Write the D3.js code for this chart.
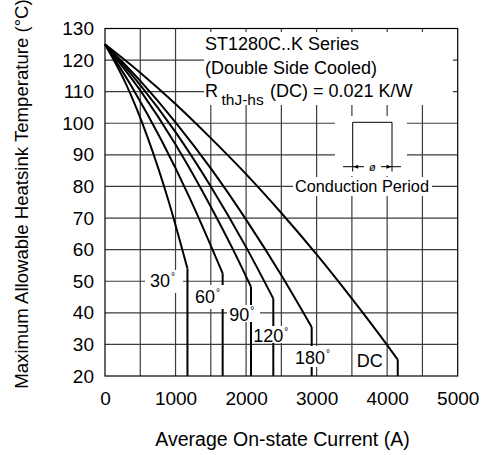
<!DOCTYPE html>
<html>
<head>
<meta charset="utf-8">
<script src="https://cdn.jsdelivr.net/npm/d3@7"></script>
<style>
  body { margin: 0; background: #fff; }
  svg { display: block; font-family: "Liberation Sans", Arial, sans-serif; }
</style>
</head>
<body>
<div class="chart"></div>
<script>
// values (current in A, heatsink temp in deg C)
const xTicks = [0, 1000, 2000, 3000, 4000, 5000];
const yTicks = [20, 30, 40, 50, 60, 70, 80, 90, 100, 110, 120, 130];

const labels = ['30', '60', '90', '120', '180', 'DC'];

const current30 = [0, 300, 600, 900, 1169];
const temp30 = [125, 112.3, 95.8, 75.5, 54];

const current60 = [0, 400, 800, 1200, 1668];
const temp60 = [125, 110.8, 94.6, 76.4, 52.5];

const current90 = [0, 500, 1000, 1500, 1800, 2070];
const temp90 = [125, 110.4, 93.3, 73.6, 60.7, 48.2];

const current120 = [0, 500, 1000, 1500, 2000, 2386];
const temp120 = [125, 112.1, 97.2, 80, 60.8, 44.5];

const current180 = [0, 500, 1000, 1500, 2000, 2500, 2930];
const temp180 = [125, 113.4, 100.3, 85.7, 69.5, 51.9, 35.5];

const currentDC = [0, 500, 1000, 1500, 2000, 2500, 3000, 3500, 4000, 4150];
const tempDC = [125, 116, 106.1, 95.3, 83.9, 71.6, 58.5, 44.5, 29.8, 25.2];

const allCurrents = [current30, current60, current90, current120, current180, currentDC];
const allTemps = [temp30, temp60, temp90, temp120, temp180, tempDC];

const width = 489, height = 455;
const x = d3.scaleLinear().domain([0, 5000]).range([105, 457.7]);
const y = d3.scaleLinear().domain([20, 130]).range([376, 28.5]);

const svg = d3.select('.chart').append('svg')
	.attr('width', width)
	.attr('height', height);

// grid
const grid = svg.append('g')
	.attr('stroke', '#3c3c3c')
	.attr('stroke-width', 1.2);
grid.selectAll('line.v')
	.data(d3.range(500, 5000, 500))
	.enter().append('line')
	.attr('x1', d => x(d)).attr('x2', d => x(d))
	.attr('y1', y(20)).attr('y2', y(130));
grid.selectAll('line.h')
	.data(yTicks.slice(1, -1))
	.enter().append('line')
	.attr('x1', x(0)).attr('x2', x(5000))
	.attr('y1', d => y(d)).attr('y2', d => y(d));

// curves
const line = d3.line()
	.x(d => x(d[0]))
	.y(d => y(d[1]))
	.curve(d3.curveMonotoneX);

const curves = svg.append('g')
	.attr('fill', 'none')
	.attr('stroke', '#000')
	.attr('stroke-width', 2);

labels.forEach((name, i) => {
	const pts = allCurrents[i].map((c, j) => [c, allTemps[i][j]]);
	const last = pts[pts.length - 1];
	curves.append('path').attr('d', line(pts));
	curves.append('line')
		.attr('x1', x(last[0])).attr('x2', x(last[0]))
		.attr('y1', y(last[1])).attr('y2', y(20));
});

// white boxes behind annotation text (they break the grid like in the original)
const boxes = [
	[145, 270, 38, 23],
	[193, 285, 33, 24],
	[227, 305, 33, 17],
	[253, 326, 43, 17],
	[293, 346, 41, 21],
	[354, 351, 31, 18],
	[204, 32, 249, 73],
	[335, 116, 72, 60],
	[293, 177, 139, 19]
];
svg.append('g').selectAll('rect')
	.data(boxes)
	.enter().append('rect')
	.attr('x', d => d[0]).attr('y', d => d[1])
	.attr('width', d => d[2]).attr('height', d => d[3])
	.attr('fill', '#fff');

// curve labels
const labelPos = [[150, 287], [195, 303], [229.3, 320.5], [253.3, 341.7], [295, 364], [356.7, 366.7]];
labels.forEach((name, i) => {
	const t = svg.append('text')
		.attr('x', labelPos[i][0]).attr('y', labelPos[i][1])
		.attr('font-size', 18)
		.text(name);
	if (name !== 'DC') {
		t.append('tspan')
			.attr('font-size', 10)
			.attr('dx', 1).attr('dy', -7)
			.text('°');
	}
});

// series title
const title = svg.append('g').attr('font-size', 18);
title.append('text').attr('x', 205).attr('y', 49.5).text('ST1280C..K Series');
title.append('text').attr('x', 205).attr('y', 73.5).text('(Double Side Cooled)');
title.append('text').attr('x', 205).attr('y', 97).text('R');
title.append('text').attr('x', 221.5).attr('y', 104.5).attr('font-size', 15.5).text('thJ-hs');
title.append('text').attr('x', 270).attr('y', 97).text('(DC) = 0.021 K/W');

// conduction period sketch
const sk = svg.append('g').attr('stroke', '#000').attr('stroke-width', 1).attr('fill', 'none');
sk.append('path').attr('d', 'M352.7,171.5V122.3H392V171.5');
sk.append('line').attr('x1', 343).attr('x2', 364).attr('y1', 166.7).attr('y2', 166.7);
sk.append('line').attr('x1', 381).attr('x2', 401).attr('y1', 166.7).attr('y2', 166.7);
svg.append('path').attr('d', 'M353.2,166.7l5,-2v4z').attr('fill', '#000');
svg.append('path').attr('d', 'M391.5,166.7l-5,-2v4z').attr('fill', '#000');
svg.append('text')
	.attr('x', 372.3).attr('y', 170.5)
	.attr('text-anchor', 'middle')
	.attr('font-size', 11)
	.attr('font-style', 'italic')
	.text('ø');
svg.append('text')
	.attr('x', 295).attr('y', 192.3)
	.attr('font-size', 16.3)
	.text('Conduction Period');

// frame
svg.append('rect')
	.attr('x', x(0)).attr('y', y(130))
	.attr('width', x(5000) - x(0)).attr('height', y(20) - y(130))
	.attr('fill', 'none')
	.attr('stroke', '#000')
	.attr('stroke-width', 1.2);

// axes
const xAxis = svg.append('g')
	.attr('transform', `translate(0,${y(20)})`)
	.call(d3.axisBottom(x).tickValues(xTicks).tickFormat(d3.format('d')).tickSize(0).tickPadding(16));
const yAxis = svg.append('g')
	.attr('transform', `translate(${x(0)},0)`)
	.call(d3.axisLeft(y).tickValues(yTicks).tickFormat(d3.format('d')).tickSize(0).tickPadding(11));
[xAxis, yAxis].forEach(a => {
	a.select('.domain').remove();
	a.selectAll('text')
		.attr('font-family', '"Liberation Sans", Arial, sans-serif')
		.attr('font-size', 19)
		.attr('fill', '#000');
});

svg.append('text')
	.attr('x', 282.5).attr('y', 446)
	.attr('text-anchor', 'middle')
	.attr('font-size', 19.5)
	.text('Average On-state Current (A)');

svg.append('text')
	.attr('transform', 'translate(28.3,194) rotate(-90)')
	.attr('text-anchor', 'middle')
	.attr('font-size', 18.6)
	.text('Maximum Allowable Heatsink Temperature (°C)');
</script>
</body>
</html>
